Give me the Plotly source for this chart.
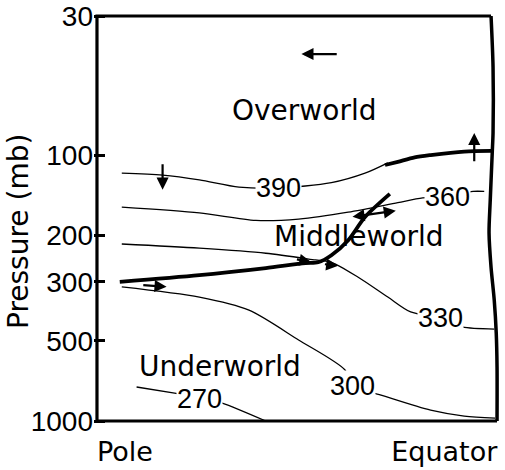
import numpy as np
import plotly.graph_objects as go

# ---------------- data (x: 0 = Pole, 1 = Equator; p in mb) ----------------
th390_x = [0.062, 0.164, 0.256, 0.355, 0.454, 0.586, 0.670, 0.727]
th390_p = [117, 119, 124, 132, 133, 127, 117, 107]

th360_x = [0.062, 0.256, 0.397, 0.504, 0.628, 0.752, 0.814, 0.873, 0.940, 0.968]
th360_p = [157, 165, 176, 174, 164, 151, 145, 143, 137, 137]

th330_x = [0.062, 0.256, 0.422, 0.546, 0.586, 0.653, 0.727, 0.784, 0.859, 0.913, 0.993]
th330_p = [216, 224, 234, 248, 253, 288, 342, 389, 410, 443, 451]

th300_x = [0.062, 0.256, 0.380, 0.504, 0.620, 0.638, 0.710, 0.834, 0.918, 0.995]
th300_p = [313, 342, 383, 496, 643, 739, 799, 910, 958, 975]

th270_x = [0.099, 0.194, 0.256, 0.313, 0.422]
th270_p = [745, 785, 813, 856, 1000]

trop_low_x = [0.057, 0.256, 0.422, 0.521, 0.553, 0.586, 0.628, 0.670, 0.732]
trop_low_p = [300, 283, 266, 255, 253, 238, 209, 171, 140]

trop_up_x = [0.720, 0.752, 0.794, 0.834, 0.918, 0.985]
trop_up_p = [109, 106, 102, 100, 97, 96.5]

edge_x = [0.985, 0.990, 0.990, 0.988, 0.983, 0.980, 0.985, 0.993, 0.998, 1.0, 1.0]
edge_p = [30, 46.6, 82.6, 98, 148, 196, 264, 351, 467, 627, 1000]

box_x = [0.985, 0.0, 0.0, 1.0]
box_p = [30, 30, 1000, 1000]

# arrows: tail x, tail p, head x, head p, double-headed
arrow_tail_x = [0.603, 0.164, 0.943, 0.635, 0.496, 0.566, 0.112]
arrow_tail_p = [41.7, 107, 107, 171, 246, 257, 308]
arrow_head_x = [0.511, 0.164, 0.943, 0.747, 0.536, 0.603, 0.174]
arrow_head_p = [41.7, 135, 82.6, 162, 253, 261, 313]
arrow_double = [False, False, False, True, False, False, False]

# isentrope labels
isen_labels = ["390", "360", "330", "300", "270"]
isen_lab_x = [0.454, 0.875, 0.859, 0.638, 0.256]
isen_lab_p = [133, 144, 410, 739, 825]

region_labels = ["Overworld", "Middleworld", "Underworld"]
region_x = [0.518, 0.655, 0.307]
region_p = [67.7, 203, 625]

y_ticks = [30, 100, 200, 300, 500, 1000]
x_tick_pos = [0.07, 0.868]
x_tick_text = ["Pole", "Equator"]

# ---------------- figure ----------------
BLACK = "#000000"
WORD_FONT = "DejaVu Sans"
NUM_FONT = "Liberation Sans"

fig = go.Figure()

def add_line(xs, ps, width, shape="spline"):
    fig.add_trace(go.Scatter(x=xs, y=ps, mode="lines",
                             line=dict(color=BLACK, width=width, shape=shape, smoothing=0.8),
                             hoverinfo="skip", showlegend=False))

add_line(th390_x, th390_p, 1.3)
add_line(th360_x, th360_p, 1.3)
add_line(th330_x, th330_p, 1.3)
add_line(th300_x, th300_p, 1.3)
add_line(th270_x, th270_p, 1.3)
add_line(trop_low_x, trop_low_p, 3.8)
add_line(trop_up_x, trop_up_p, 3.8)
add_line(edge_x, edge_p, 3.5)
add_line(box_x, box_p, 3.2, shape="linear")

annotations = []
for lab, x, p in zip(isen_labels, isen_lab_x, isen_lab_p):
    annotations.append(dict(x=x, y=np.log10(p), xref="x", yref="y", text=lab,
                            showarrow=False, bgcolor="white", borderpad=0,
                            font=dict(family=NUM_FONT, size=27, color=BLACK)))
for lab, x, p in zip(region_labels, region_x, region_p):
    annotations.append(dict(x=x, y=np.log10(p), xref="x", yref="y", text=lab,
                            showarrow=False,
                            font=dict(family=WORD_FONT, size=28, color=BLACK)))
for tx, tp, hx, hp, dbl in zip(arrow_tail_x, arrow_tail_p, arrow_head_x, arrow_head_p, arrow_double):
    a = dict(x=hx, y=np.log10(hp), ax=tx, ay=np.log10(tp), xref="x", yref="y",
             axref="x", ayref="y", text="", showarrow=True, arrowhead=2,
             arrowsize=1.1, arrowwidth=2.2, arrowcolor=BLACK, standoff=0, startstandoff=0)
    if dbl:
        a.update(arrowside="end+start", startarrowhead=2, startarrowsize=1.1)
    annotations.append(a)

# y-axis title
annotations.append(dict(x=-0.1834, y=0.4696, xref="paper", yref="paper",
                        xanchor="center", yanchor="middle",
                        text="Pressure (mb)", textangle=-90, showarrow=False,
                        font=dict(family=WORD_FONT, size=28, color=BLACK)))

fig.update_layout(
    width=505, height=470,
    margin=dict(l=94, r=2, t=13, b=46),
    paper_bgcolor="white", plot_bgcolor="white",
    annotations=annotations,
    xaxis=dict(range=[-3 / 403, 1 + 6 / 403], showgrid=False, zeroline=False,
               showline=False, ticks="", tickvals=x_tick_pos, ticktext=x_tick_text,
               tickfont=dict(family=WORD_FONT, size=27, color=BLACK),
               ticklabelstandoff=9),
    yaxis=dict(type="log", range=[3 + 3 / 265.9, np.log10(30) - 3 / 265.9],
               showgrid=False, zeroline=False, showline=False,
               tickvals=y_ticks, ticktext=[str(v) for v in y_ticks],
               ticks="inside", ticklen=11, tickwidth=2.5, tickcolor=BLACK,
               tickfont=dict(family=NUM_FONT, size=28, color=BLACK),
               ticklabelstandoff=0),
)

fig.write_html("out.html")
